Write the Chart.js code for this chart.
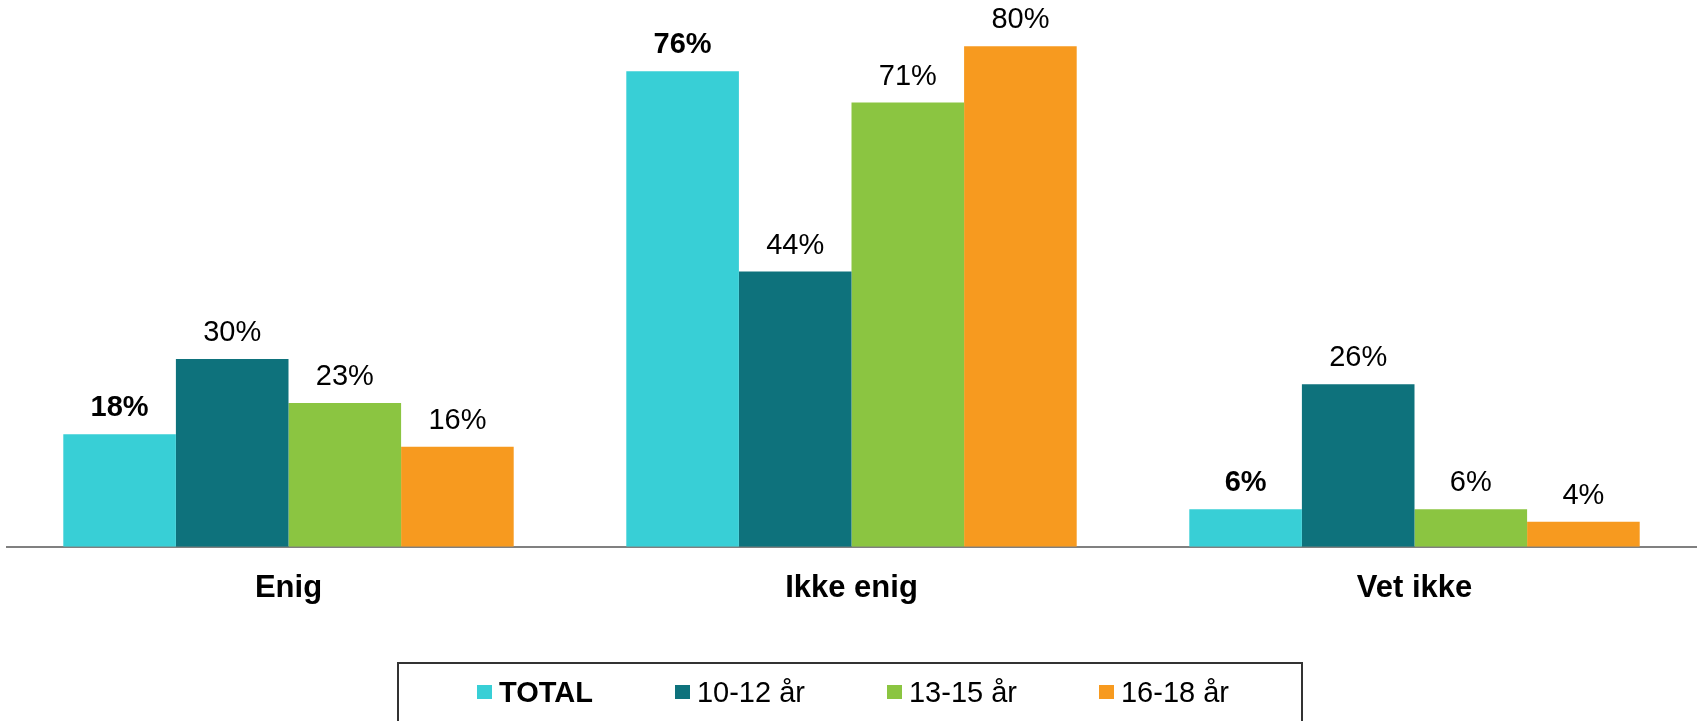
<!DOCTYPE html>
<html>
<head>
<meta charset="utf-8">
<script src="https://cdn.jsdelivr.net/npm/chart.js@4.4.1/dist/chart.umd.min.js"></script>
<style>
  html, body { margin: 0; padding: 0; background: #fff; }
  #wrap { position: relative; width: 1699px; height: 721px; overflow: hidden; }
  #chart { position: absolute; left: 0; top: 0; }
  #legend {
    position: absolute; left: 397px; top: 662px; width: 906px; height: 80px;
    border: 2px solid #333; box-sizing: border-box;
    display: flex; justify-content: center; align-items: flex-start; gap: 82px;
    padding-top: 11px; padding-left: 6px;
    font-family: 'Liberation Sans', Arial, sans-serif; font-size: 29px; color: #000;
  }
  .item { display: flex; align-items: center; white-space: nowrap; line-height: 34px; }
  .box { width: 15px; height: 14px; margin-right: 7px; }
</style>
</head>
<body>
<div id="wrap">
  <canvas id="chart" width="1699" height="721"></canvas>
  <div id="legend"></div>
</div>
<script>
const categories = ['Enig', 'Ikke enig', 'Vet ikke'];
const seriesNames = ['TOTAL', '10-12 år', '13-15 år', '16-18 år'];
const total = [18, 76, 6];
const age10to12 = [30, 44, 26];
const age13to15 = [23, 71, 6];
const age16to18 = [16, 80, 4];
const colors = ['#38CFD6', '#0E727C', '#8BC541', '#F79A1F'];

const values = [total, age10to12, age13to15, age16to18];
const font = "'Liberation Sans', Arial, sans-serif";
Chart.defaults.font.family = font;
Chart.defaults.color = '#000';

// value labels above each bar, TOTAL in bold
const valueLabels = {
  id: 'valueLabels',
  afterDatasetsDraw(chart) {
    const ctx = chart.ctx;
    ctx.save();
    ctx.textAlign = 'center';
    ctx.textBaseline = 'alphabetic';
    ctx.fillStyle = '#000';
    chart.data.datasets.forEach((ds, i) => {
      ctx.font = (i === 0 ? 'bold ' : '') + '29px ' + font;
      chart.getDatasetMeta(i).data.forEach((bar, j) => {
        ctx.fillText(ds.data[j] + '%', bar.x, bar.y - 18);
      });
    });
    ctx.restore();
  }
};

const chart = new Chart(document.getElementById('chart'), {
  type: 'bar',
  data: {
    labels: categories,
    datasets: seriesNames.map((name, i) => ({
      label: name,
      data: values[i],
      backgroundColor: colors[i],
      borderWidth: 0,
      barPercentage: 1.0,
      categoryPercentage: 0.8
    }))
  },
  options: {
    responsive: false,
    animation: false,
    layout: { padding: { left: 7, right: 3, top: 0, bottom: 91 } },
    plugins: { legend: { display: false }, tooltip: { enabled: false } },
    scales: {
      x: {
        z: 1,
        grid: { display: false, drawTicks: false },
        border: { display: true, color: '#808080', width: 2 },
        ticks: { padding: 23, font: { size: 31, weight: 'bold' }, color: '#000' }
      },
      y: { display: false, min: 0, max: 87.4 }
    }
  },
  plugins: [valueLabels]
});

const legend = document.getElementById('legend');
seriesNames.forEach((name, i) => {
  const item = document.createElement('div');
  item.className = 'item';
  item.innerHTML = `<span class="box" style="background:${colors[i]}"></span>` +
    `<span style="font-weight:${i === 0 ? 'bold' : 'normal'}">${name}</span>`;
  legend.appendChild(item);
});
</script>
</body>
</html>
